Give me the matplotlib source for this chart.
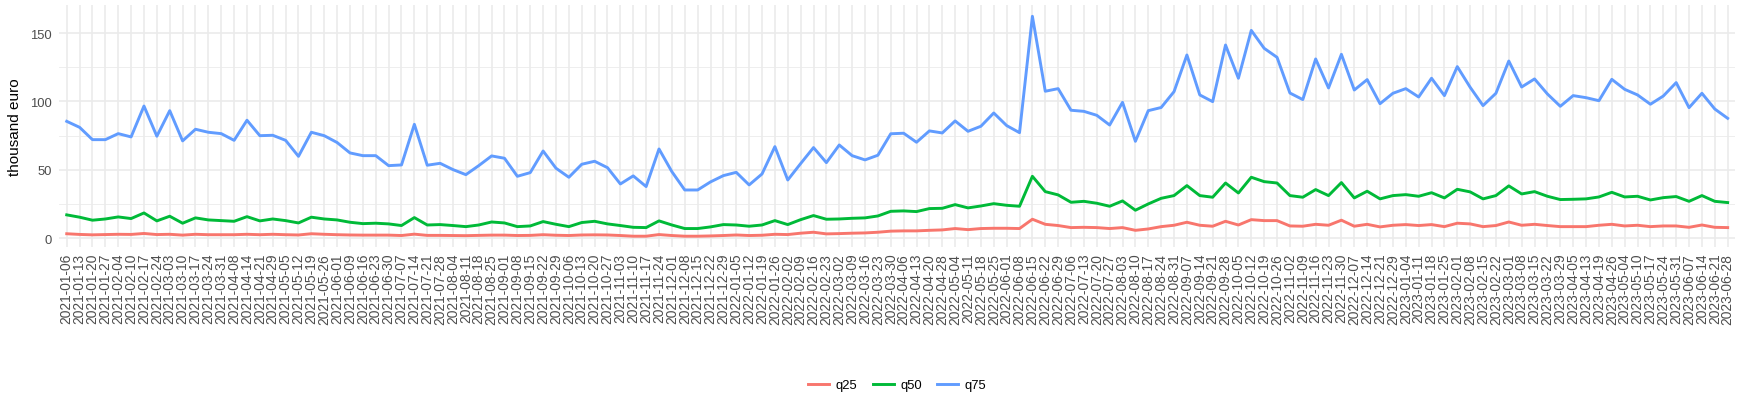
import matplotlib
matplotlib.use("Agg")
import matplotlib.pyplot as plt
from matplotlib.ticker import FixedLocator

plt.rcParams['font.family'] = ['Liberation Sans', 'DejaVu Sans']

dates = [
    "2021-01-06", "2021-01-13", "2021-01-20", "2021-01-27", "2021-02-04", "2021-02-10", "2021-02-17", "2021-02-24",
    "2021-03-03", "2021-03-10", "2021-03-17", "2021-03-24", "2021-03-31", "2021-04-08", "2021-04-14", "2021-04-21",
    "2021-04-29", "2021-05-05", "2021-05-12", "2021-05-19", "2021-05-26", "2021-06-01", "2021-06-09", "2021-06-16",
    "2021-06-23", "2021-06-30", "2021-07-07", "2021-07-14", "2021-07-21", "2021-07-28", "2021-08-04", "2021-08-11",
    "2021-08-18", "2021-08-25", "2021-09-01", "2021-09-08", "2021-09-15", "2021-09-22", "2021-09-29", "2021-10-06",
    "2021-10-13", "2021-10-20", "2021-10-27", "2021-11-03", "2021-11-10", "2021-11-17", "2021-11-24", "2021-12-01",
    "2021-12-08", "2021-12-15", "2021-12-22", "2021-12-29",
    "2022-01-05", "2022-01-12", "2022-01-19", "2022-01-26", "2022-02-02", "2022-02-09", "2022-02-16", "2022-02-23",
    "2022-03-02", "2022-03-09", "2022-03-16", "2022-03-23", "2022-03-30", "2022-04-06", "2022-04-13", "2022-04-20",
    "2022-04-28", "2022-05-04", "2022-05-11", "2022-05-18", "2022-05-25", "2022-06-01", "2022-06-08", "2022-06-15",
    "2022-06-22", "2022-06-29", "2022-07-06", "2022-07-13", "2022-07-20", "2022-07-27", "2022-08-03", "2022-08-10",
    "2022-08-17", "2022-08-24", "2022-08-31", "2022-09-07", "2022-09-14", "2022-09-21", "2022-09-28", "2022-10-05",
    "2022-10-12", "2022-10-19", "2022-10-26", "2022-11-02", "2022-11-09", "2022-11-16", "2022-11-23", "2022-11-30",
    "2022-12-07", "2022-12-14", "2022-12-21", "2022-12-29",
    "2023-01-04", "2023-01-11", "2023-01-18", "2023-01-25", "2023-02-01", "2023-02-08", "2023-02-15", "2023-02-22",
    "2023-03-01", "2023-03-08", "2023-03-15", "2023-03-22", "2023-03-29", "2023-04-05", "2023-04-13", "2023-04-19",
    "2023-04-26", "2023-05-04", "2023-05-10", "2023-05-17", "2023-05-24", "2023-05-31", "2023-06-07", "2023-06-14",
    "2023-06-21", "2023-06-28",
]

q25 = [
    3.3, 2.8, 2.5, 2.7, 2.9, 2.8, 3.5, 2.7, 2.9, 2.3, 2.9, 2.6, 2.6, 2.6, 2.9, 2.6, 2.9, 2.6, 2.4, 3.3, 2.9, 2.6,
    2.4, 2.3, 2.3, 2.3, 2.0, 3.0, 2.1, 2.1, 2.0, 1.9, 2.1, 2.3, 2.3, 2.0, 2.1, 2.6, 2.2, 2.0, 2.4, 2.5, 2.4,
    2.0, 1.5, 1.5, 2.7, 2.0, 1.5, 1.5, 1.7, 2.0, 2.4, 2.0, 2.2, 2.9, 2.7, 3.7, 4.4, 3.2, 3.4, 3.7, 3.9, 4.4,
    5.2, 5.4, 5.4, 5.8, 6.1, 7.1, 6.3, 7.1, 7.3, 7.3, 7.1, 13.9, 10.2, 9.3, 7.8, 8.0, 7.8, 7.1, 7.8, 5.8, 6.8, 8.5,
    9.5, 11.7, 9.5, 8.8, 12.4, 9.7, 13.6, 12.9, 12.9, 9.0, 8.8, 10.2, 9.5, 13.2, 8.8, 10.2, 8.3, 9.5, 10.0, 9.3, 10.0,
    8.5, 11.0, 10.5, 8.5, 9.3, 11.9, 9.5, 10.2, 9.3, 8.5, 8.5, 8.5, 9.5, 10.2, 9.0, 9.5, 8.5, 9.0, 9.0, 8.0, 9.7, 8.0, 7.8,
]

q50 = [
    17.1, 15.4, 13.2, 14.1, 15.6, 14.4, 18.5, 12.7, 16.1, 11.0, 14.9, 13.4, 12.9, 12.4, 15.8, 12.7, 14.1, 12.9, 11.2, 15.4, 14.1, 13.4,
    11.7, 10.7, 11.0, 10.5, 9.3, 15.1, 9.7, 10.0, 9.3, 8.5, 9.7, 11.9, 11.2, 8.5, 9.0, 12.2, 10.2, 8.5, 11.5, 12.4, 10.5,
    9.3, 8.0, 7.8, 12.7, 9.7, 7.1, 7.1, 8.3, 10.0, 9.7, 8.8, 9.7, 12.9, 10.0, 13.6, 16.6, 13.9, 14.1, 14.6, 14.9, 16.3,
    19.7, 20.0, 19.5, 21.7, 21.9, 24.6, 22.2, 23.6, 25.3, 24.1, 23.4, 45.3, 34.1, 31.7, 26.3, 27.0, 25.6, 23.4, 27.3, 20.5, 25.1, 29.2,
    31.2, 38.5, 31.2, 30.0, 40.4, 33.1, 44.6, 41.4, 40.4, 31.2, 30.0, 35.6, 31.2, 40.7, 29.5, 34.4, 28.8, 31.2, 31.9, 30.7, 33.3,
    29.5, 35.8, 33.9, 28.8, 31.2, 38.3, 32.4, 34.1, 30.7, 28.3, 28.5, 28.8, 30.2, 33.6, 30.2, 30.7, 28.0, 29.7, 30.5, 27.0, 31.2, 27.0, 26.1,
]

q75 = [
    85.5, 81.1, 72.1, 72.1, 76.5, 74.1, 96.7, 74.6, 93.3, 71.2, 79.7, 77.5, 76.5, 71.6, 86.3, 75.0, 75.3, 71.6, 59.9, 77.5, 75.0, 70.0,
    62.4, 60.4, 60.4, 53.1, 53.6, 83.3, 53.4, 54.8, 50.2, 46.5, 53.1, 60.2, 58.5, 45.3, 48.0, 63.8, 51.2, 44.6, 54.1, 56.3, 51.6,
    39.7, 45.6, 37.8, 65.3, 48.7, 35.3, 35.3, 41.2, 45.8, 48.2, 39.0, 47.0, 67.0, 42.6, 54.6, 66.3, 55.3, 68.2, 60.4, 57.3, 60.7,
    76.4, 76.8, 70.2, 78.5, 77.0, 85.8, 78.2, 81.9, 91.6, 82.4, 77.2, 162.3, 107.5, 109.4, 93.6, 92.8, 89.9, 82.8, 99.4, 70.9, 93.3, 95.6,
    107.2, 134.0, 104.8, 99.9, 141.3, 117.0, 152.0, 138.9, 132.3, 106.2, 101.4, 131.1, 109.9, 134.5, 108.4, 116.0, 98.4, 106.0, 109.4, 103.3, 117.0,
    104.3, 125.5, 110.4, 97.0, 106.0, 129.6, 110.6, 116.5, 105.5, 96.5, 104.3, 102.8, 100.6, 116.2, 108.9, 104.8, 98.0, 104.0, 113.8, 95.5, 106.0, 94.5, 87.7,
]

series_names = ["q25", "q50", "q75"]
series_colors = ["#F8766D", "#00BA38", "#619CFF"]

W, H = 1743, 414
fig = plt.figure(figsize=(W / 100, H / 100), dpi=100)
left, right, top, bottom = 59, 1735.4, 6.3, 248.2
ax = fig.add_axes([left / W, 1 - bottom / H, (right - left) / W, (bottom - top) / H])

x = list(range(len(dates)))
handles = []
for name, vals, col in zip(series_names, [q25, q50, q75], series_colors):
    h, = ax.plot(x, vals, color=col, lw=2.1, label=name, solid_joinstyle='round', zorder=3)
    handles.append(h)

allv = q25 + q50 + q75
lo, hi = min(allv), max(allv)
pad = 0.05 * (hi - lo)
ax.set_ylim(lo - pad, hi + pad)
ax.set_xlim(-0.6, len(dates) - 1 + 0.6)

ax.set_xticks(x)
ax.set_xticklabels(dates, rotation=90, fontsize=9.9, color='#4D4D4D', va='top', ha='center')
ax.set_yticks([0, 50, 100, 150])
ax.yaxis.set_minor_locator(FixedLocator([25, 75, 125]))
ax.tick_params(axis='y', labelsize=9.4, labelcolor='#4D4D4D', length=0, pad=5)
ax.tick_params(axis='y', which='minor', length=0)
ax.tick_params(axis='x', length=0, pad=4)

ax.grid(which='major', color='#EBEBEB', lw=1.2, zorder=0)
ax.grid(which='minor', axis='y', color='#EBEBEB', lw=0.6, zorder=0)
ax.set_axisbelow(True)
for s in ax.spines.values():
    s.set_visible(False)

ax.set_ylabel("thousand euro", fontsize=11, color='black', labelpad=6)

fig.legend(handles=handles, labels=series_names, loc='center',
           bbox_to_anchor=(((left + right) / 2) / W, 1 - 386 / H), ncol=3, frameon=False,
           fontsize=9.4, handlelength=1.6, handletextpad=0.5, columnspacing=1.2)

fig.savefig("out.png", dpi=100)
